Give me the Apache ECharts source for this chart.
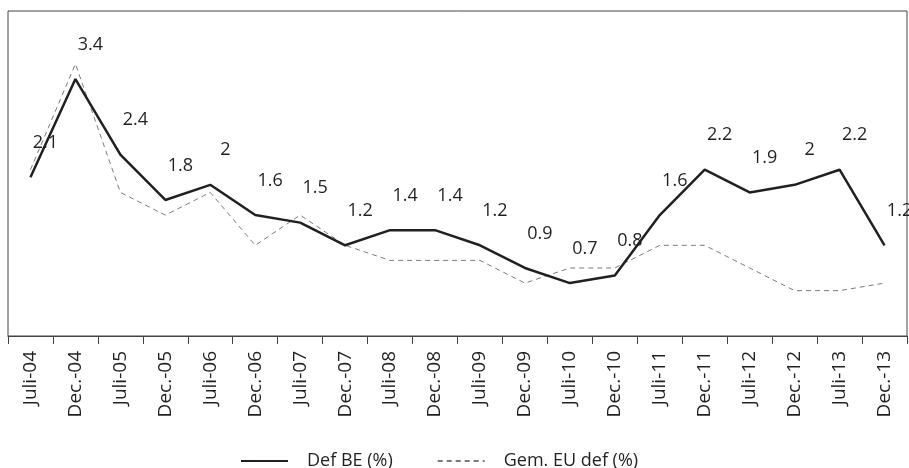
<!DOCTYPE html>
<html>
<head>
<meta charset="utf-8">
<script src="https://cdn.jsdelivr.net/npm/echarts@6/dist/echarts.min.js"></script>
<style>
  html, body { margin: 0; padding: 0; background: #fff; }
  #chart { width: 909px; height: 468px; }
</style>
</head>
<body>
<div id="chart"></div>
<script>
// periodes (halfjaarlijks)
var periods = ['Juli-04', 'Dec.-04', 'Juli-05', 'Dec.-05', 'Juli-06', 'Dec.-06', 'Juli-07', 'Dec.-07',
               'Juli-08', 'Dec.-08', 'Juli-09', 'Dec.-09', 'Juli-10', 'Dec.-10', 'Juli-11', 'Dec.-11',
               'Juli-12', 'Dec.-12', 'Juli-13', 'Dec.-13'];
// Def BE (%)
var defBE = [2.1, 3.4, 2.4, 1.8, 2, 1.6, 1.5, 1.2, 1.4, 1.4, 1.2, 0.9, 0.7, 0.8, 1.6, 2.2, 1.9, 2, 2.2, 1.2];
var defEU = [2.2, 3.6, 1.9, 1.6, 1.9, 1.2, 1.6, 1.2, 1.0, 1.0, 1.0, 0.7, 0.9, 0.9, 1.2, 1.2, 0.9, 0.6, 0.6, 0.7];

var txt = '#231f20';
var font = 'Open Sans';

var chart = echarts.init(document.getElementById('chart'));
var option = {
    animation: false,
    textStyle: { fontFamily: font },
    grid: {
        left: 8,
        right: 2,
        top: 11,
        bottom: 132,
        show: true,
        borderColor: '#444',
        borderWidth: 1
    },
    legend: {
        left: 235,
        top: 447,
        itemWidth: 47,
        itemHeight: 14,
        itemGap: 44,
        itemStyle: { opacity: 0 },
        textStyle: { fontSize: 18, color: txt, fontFamily: font, padding: [0, 0, 0, 14] },
        data: ['Def BE (%)', 'Gem. EU def (%)']
    },
    xAxis: {
        type: 'category',
        data: periods,
        boundaryGap: true,
        axisLine: { lineStyle: { color: '#444', width: 1 } },
        axisTick: { show: true, length: 8, lineStyle: { color: '#444' } },
        axisLabel: { rotate: 90, margin: 15, fontSize: 19, color: txt, fontFamily: font, interval: 0 }
    },
    yAxis: {
        type: 'value',
        min: 0,
        max: 4.3,
        axisLine: { show: false },
        axisTick: { show: false },
        axisLabel: { show: false },
        splitLine: { show: false }
    },
    series: [
        {
            name: 'Gem. EU def (%)',
            type: 'line',
            data: defEU,
            symbol: 'none',
            lineStyle: { color: '#7a7a7a', width: 1, type: [5, 4] },
            itemStyle: { color: '#7a7a7a' },
            z: 2
        },
        {
            name: 'Def BE (%)',
            type: 'line',
            data: defBE,
            symbol: 'circle',
            symbolSize: 1,
            showAllSymbol: true,
            lineStyle: { color: txt, width: 2.5 },
            itemStyle: { color: 'rgba(0,0,0,0)' },
            label: {
                show: true,
                position: 'top',
                distance: 0,
                offset: [15, -25],
                fontSize: 18,
                color: txt,
                fontFamily: font
            },
            z: 3
        }
    ]
};
chart.setOption(option);
</script>
</body>
</html>
